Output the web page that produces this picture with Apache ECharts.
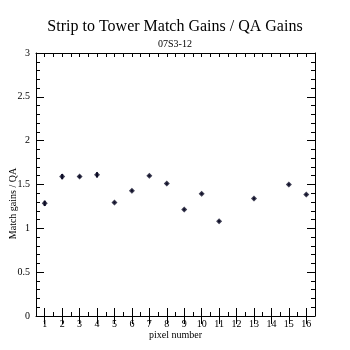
<!DOCTYPE html>
<html>
<head>
<meta charset="utf-8">
<script src="https://cdn.jsdelivr.net/npm/echarts@6/dist/echarts.min.js"></script>
<style>html,body{margin:0;padding:0;background:#fff;}#c{width:350px;height:350px;}</style>
</head>
<body>
<div id="c"></div>
<script>
var pixels = [1, 2, 3, 4, 5, 6, 7, 8, 9, 10, 11, 13, 15, 16];
var ratios = [1.285, 1.59, 1.59, 1.61, 1.295, 1.43, 1.60, 1.51, 1.215, 1.395, 1.08, 1.34, 1.50, 1.385];
var errors = [0.03, 0.03, 0.015, 0.03, 0.012, 0.012, 0.012, 0.012, 0.012, 0.012, 0.012, 0.012, 0.012, 0.012];
var pixelLabels = ['1','2','3','4','5','6','7','8','9','10','11','12','13','14','15','16'];

var pts = pixels.map(function(p, i){ return [p, ratios[i]]; });
var errData = pixels.map(function(p, i){ return [p, ratios[i] - errors[i], ratios[i] + errors[i]]; });

var font = 'Liberation Serif';
var chart = echarts.init(document.getElementById('c'), null, {renderer: 'canvas'});
var grid = {left: 36, right: 35, top: 53, bottom: 34, containLabel: false, outerBoundsMode: 'none'};
chart.setOption({
  animation: false,
  backgroundColor: '#ffffff',
  title: [
    {text: 'Strip to Tower Match Gains / QA Gains', left: 'center', top: 14,
     textStyle: {fontFamily: font, fontSize: 16, fontWeight: 'normal', color: '#000'}},
    {text: '07S3-12', left: 'center', top: 34,
     textStyle: {fontFamily: font, fontSize: 10, fontWeight: 'normal', color: '#000'}}
  ],
  grid: grid,
  xAxis: [
    {type: 'value', min: 0.5, max: 16.5, interval: 0.5, position: 'bottom',
     axisLine: {show: true, onZero: false, lineStyle: {color: '#000', width: 1}},
     axisTick: {show: true, inside: true, length: 4, lineStyle: {color: '#000'}},
     axisLabel: {show: true, margin: 3, fontFamily: font, fontSize: 10, color: '#000',
       formatter: function(v){ return (Math.abs(v - Math.round(v)) < 1e-6) ? String(Math.round(v)) : ''; }},
     splitLine: {show: false},
     name: 'pixel number', nameLocation: 'middle', nameGap: 14, nameMoveOverlap: false,
     nameTextStyle: {fontFamily: font, fontSize: 10, color: '#000'}},
    {type: 'value', min: 0.5, max: 16.5, interval: 0.5, position: 'top',
     axisLine: {show: true, onZero: false, lineStyle: {color: '#000', width: 1}},
     axisTick: {show: true, inside: true, length: 4, lineStyle: {color: '#000'}},
     axisLabel: {show: false}, splitLine: {show: false}},
    {type: 'category', data: pixelLabels, position: 'bottom', boundaryGap: true,
     axisLine: {show: false},
     axisTick: {show: true, inside: true, length: 8, alignWithLabel: true, lineStyle: {color: '#000'}},
     axisLabel: {show: false}, splitLine: {show: false}},
    {type: 'category', data: pixelLabels, position: 'top', boundaryGap: true,
     axisLine: {show: false},
     axisTick: {show: true, inside: true, length: 8, alignWithLabel: true, lineStyle: {color: '#000'}},
     axisLabel: {show: false}, splitLine: {show: false}}
  ],
  yAxis: [
    {type: 'value', min: 0, max: 3, interval: 0.5, position: 'left',
     axisLine: {show: true, onZero: false, lineStyle: {color: '#000', width: 1}},
     axisTick: {show: true, inside: true, length: 8, lineStyle: {color: '#000'}},
     minorTick: {show: true, splitNumber: 5, length: 4, lineStyle: {color: '#000'}},
     axisLabel: {margin: 6, fontFamily: font, fontSize: 10, color: '#000'},
     splitLine: {show: false}, minorSplitLine: {show: false},
     name: 'Match gains / QA', nameLocation: 'middle', nameGap: 18, nameMoveOverlap: false,
     nameTextStyle: {fontFamily: font, fontSize: 10, color: '#000', padding: [0, 38, 0, 0]}},
    {type: 'value', min: 0, max: 3, interval: 0.5, position: 'right',
     axisLine: {show: true, onZero: false, lineStyle: {color: '#000', width: 1}},
     axisTick: {show: true, inside: true, length: 8, lineStyle: {color: '#000'}},
     minorTick: {show: true, splitNumber: 5, length: 4, lineStyle: {color: '#000'}},
     axisLabel: {show: false}, splitLine: {show: false}, minorSplitLine: {show: false}}
  ],
  series: [
    {type: 'custom', xAxisIndex: 0, yAxisIndex: 0, data: errData, z: 3,
     renderItem: function(params, api){
       var lo = api.coord([api.value(0), api.value(1)]);
       var hi = api.coord([api.value(0), api.value(2)]);
       return {type: 'line', shape: {x1: lo[0], y1: lo[1], x2: hi[0], y2: hi[1]},
               style: {stroke: '#0b0b26', lineWidth: 2}};
     }},
    {type: 'scatter', xAxisIndex: 0, yAxisIndex: 0, data: pts, symbol: 'diamond', symbolSize: 6, z: 4,
     itemStyle: {color: '#0b0b26'}}
  ]
});
</script>
</body>
</html>
